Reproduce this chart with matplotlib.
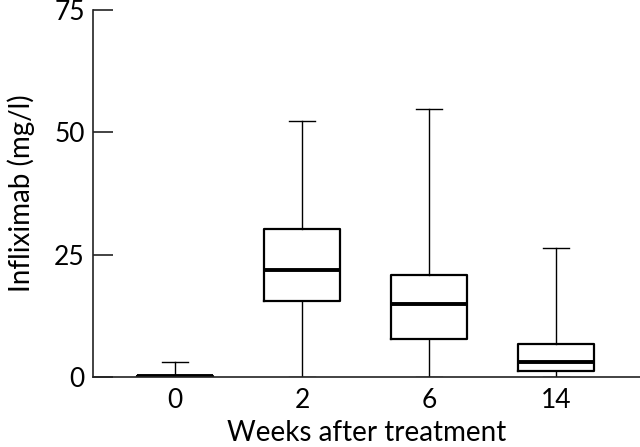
import matplotlib
matplotlib.use("Agg")
import matplotlib.pyplot as plt

plt.rcParams["font.family"] = ["Lato", "DejaVu Sans"]

# box statistics (mg/l)
weeks = ["0", "2", "6", "14"]
whisker_low = [0.0, 0.0, 0.0, 0.0]
q1 = [0.0, 15.5, 7.7, 1.2]
median = [0.3, 21.9, 14.9, 3.1]
q3 = [0.3, 30.2, 20.8, 6.8]
whisker_high = [3.1, 52.4, 54.7, 26.3]

stats = []
for i, lab in enumerate(weeks):
    stats.append({
        "label": lab,
        "whislo": whisker_low[i],
        "q1": q1[i],
        "med": median[i],
        "q3": q3[i],
        "whishi": whisker_high[i],
        "fliers": [],
    })

fig = plt.figure(figsize=(6.4, 4.47), dpi=100)
ax = fig.add_axes([93 / 640, 1 - 377 / 447, 547 / 640, 367 / 447])

ax.bxp(stats, positions=[1, 2, 3, 4], widths=0.6, showfliers=False,
       boxprops=dict(color="black", linewidth=1.6),
       medianprops=dict(color="black", linewidth=2.8),
       whiskerprops=dict(color="black", linewidth=1.0),
       capprops=dict(color="black", linewidth=1.0),
       capwidths=0.2)

ax.set_xlim(0.354, 4.66)
ax.set_ylim(0, 75)
ax.set_yticks([0, 25, 50, 75])
ax.spines["top"].set_visible(False)
ax.spines["right"].set_visible(False)
for s in ("left", "bottom"):
    ax.spines[s].set_linewidth(1.2)
    ax.spines[s].set_color("#222222")

ax.tick_params(axis="y", direction="in", length=14.5, width=1.2,
               color="#222222", labelsize=19, pad=6)
ax.tick_params(axis="x", length=0, labelsize=19, pad=8)

ax.set_xlabel("Weeks after treatment", fontsize=20, labelpad=5)
ax.set_ylabel("Infliximab (mg/l)", fontsize=20, labelpad=14)

fig.savefig("out.png", dpi=100)
